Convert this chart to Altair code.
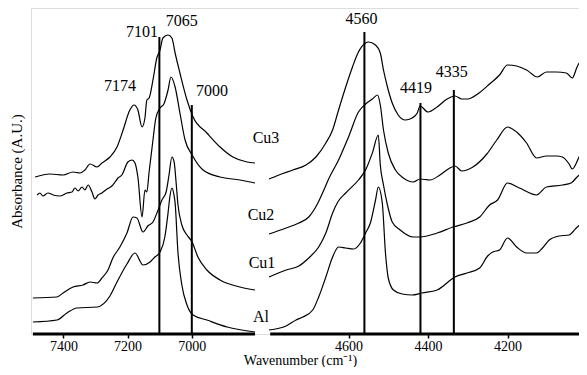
import altair as alt
import pandas as pd

# ---- Left region (7500-6800 cm-1): wavenumber / absorbance (A.U., offset stack) ----
cu3_l_wn = [7488,7442,7401,7370,7348,7333,7317,7295,7280,7255,7233,7214,7193,7180,7168,7155,7146,7140,7133,7121,7109,7099,7090,7074,7062,7052,7037,7015,6996,6953,6912,6872,6828,6803]
cu3_l_a = [157,160,159,162,161,164,170,167,171,177,187,204,224,229,224,207,216,234,236,254,276,284,296,299,296,281,261,234,217,201,187,177,172,171]

cu2_l_wn = [7482,7473,7464,7448,7432,7411,7389,7373,7364,7354,7342,7333,7323,7311,7302,7292,7280,7264,7249,7239,7230,7218,7199,7186,7177,7168,7155,7146,7140,7133,7121,7112,7099,7087,7074,7065,7052,7037,7021,6999,6965,6912,6850,6803]
cu2_l_a = [139,141,138,141,139,138,141,142,146,143,147,144,149,142,135,139,141,145,148,152,156,159,172,174,171,157,117,144,142,162,194,216,226,230,244,257,247,221,194,179,164,157,154,151]

cu1_l_wn = [7495,7420,7401,7370,7339,7317,7295,7280,7261,7246,7224,7202,7183,7171,7152,7137,7121,7105,7093,7080,7071,7062,7055,7049,7043,7031,7015,6999,6981,6953,6912,6850,6803]
cu1_l_a = [36,37,41,47,49,52,51,56,64,76,87,101,117,116,102,108,112,124,134,142,159,177,172,152,129,109,99,92,77,64,54,47,44]

al_l_wn = [7495,7420,7389,7358,7295,7255,7233,7202,7177,7152,7130,7115,7099,7084,7074,7068,7062,7056,7052,7043,7031,7015,6996,6953,6890,6803]
al_l_a = [12,14,21,26,27,38,52,70,81,69,72,77,82,97,121,138,146,140,131,81,49,29,19,14,7,2]

# ---- Right region (4800-4000 cm-1) ----
cu3_r_wn = [4800,4775,4740,4707,4682,4657,4640,4625,4607,4590,4575,4557,4550,4532,4520,4512,4502,4490,4475,4457,4440,4427,4420,4400,4377,4352,4332,4315,4300,4275,4245,4220,4200,4177,4152,4125,4102,4077,4052,4037,4025,4002]
cu3_r_a = [155,159,164,169,177,191,204,224,247,267,282,291,292,289,281,264,247,231,219,214,216,221,228,222,227,235,238,235,235,240,250,259,269,268,264,257,262,262,261,256,267,281]

cu2_r_wn = [4800,4757,4725,4700,4677,4662,4650,4625,4600,4575,4557,4540,4527,4520,4512,4500,4482,4462,4437,4420,4395,4370,4345,4332,4315,4287,4252,4227,4200,4177,4152,4127,4102,4077,4062,4045,4037,4020,4002]
cu2_r_a = [100,106,111,117,131,144,155,174,197,222,230,235,239,229,204,181,164,156,152,155,154,159,166,168,163,167,180,194,207,202,191,176,178,178,177,170,165,177,192]

cu1_r_wn = [4800,4757,4725,4700,4675,4657,4640,4627,4607,4575,4557,4540,4525,4520,4512,4502,4490,4470,4437,4420,4377,4337,4302,4270,4245,4225,4200,4170,4127,4102,4062,4040,4025,4002]
cu1_r_a = [57,64,68,76,87,101,121,132,141,154,164,181,199,169,149,129,112,104,97,97,101,107,111,117,129,134,151,146,139,147,149,151,157,164]

al_r_wn = [4800,4757,4732,4715,4690,4675,4657,4640,4625,4607,4587,4570,4557,4545,4532,4525,4515,4507,4500,4487,4465,4440,4415,4377,4332,4302,4270,4250,4237,4220,4200,4177,4152,4127,4112,4095,4070,4045,4027,4002]
al_r_a = [4,8,14,17,24,37,57,77,87,86,85,91,101,111,134,147,131,81,56,44,40,39,41,44,57,61,66,78,82,84,96,87,81,81,86,94,98,99,106,114]

# ---- Marker lines and annotations ----
marker_wn = [7101, 7000, 4560, 4419, 4335]
marker_top = [297, 229, 302, 231, 244]

peak_text = ["7174", "7101", "7065", "7000", "4560", "4419", "4335"]
peak_wn = [7224, 7155, 7031, 6937, 4567, 4430, 4340]
peak_a = [248, 302, 313, 243, 315, 246, 262]

sample_text = ["Cu3", "Cu2", "Cu1", "Al"]
sample_wn = [5262, 6031, 5877, 6031]
sample_a = [196, 119, 71, 17]

axis_start = [7495, 4797]
axis_end = [6803, 4000]

tick_values = [7400, 7200, 7000, 4600, 4400, 4200]

# ---- build tables ----
rows = []
for name, seg, wn, a in [
    ("Cu3", "L", cu3_l_wn, cu3_l_a), ("Cu2", "L", cu2_l_wn, cu2_l_a),
    ("Cu1", "L", cu1_l_wn, cu1_l_a), ("Al", "L", al_l_wn, al_l_a),
    ("Cu3", "R", cu3_r_wn, cu3_r_a), ("Cu2", "R", cu2_r_wn, cu2_r_a),
    ("Cu1", "R", cu1_r_wn, cu1_r_a), ("Al", "R", al_r_wn, al_r_a),
]:
    for i, (w, v) in enumerate(zip(wn, a)):
        rows.append({"wn": w, "a": v, "key": name + seg, "i": i})
spectra = pd.DataFrame(rows)

markers = pd.DataFrame({"wn": marker_wn, "y0": [0] * len(marker_wn), "y1": marker_top})
peaks = pd.DataFrame({"wn": peak_wn, "a": peak_a, "t": peak_text})
samples = pd.DataFrame({"wn": sample_wn, "a": sample_a, "t": sample_text})
axlines = pd.DataFrame({"s": axis_start, "e": axis_end})

FONT = "Liberation Serif"
xscale = alt.Scale(domain=[7500, 6800, 4800, 4000], range=[0.3, 225, 238, 556], nice=False, zero=False)
yscale = alt.Scale(domain=[0, 326], nice=False, zero=False)

xaxis = alt.Axis(values=tick_values, format="d", domain=False, grid=False,
                 ticks=True, tickSize=4, tickWidth=1.5, tickColor="black",
                 labelFont=FONT, labelFontSize=14, labelColor="black", labelPadding=1,
                 title="Wavenumber (cm⁻¹)", titleFont=FONT, titleFontSize=14,
                 titleFontWeight="normal", titleColor="black", titleX=269,
                 titleY=26, titleBaseline="middle")
yaxis = alt.Axis(labels=False, ticks=False, domain=False, grid=False,
                 title="Absorbance (A.U.)", titleFont=FONT, titleFontSize=15,
                 titleFontWeight="normal", titleColor="black", titlePadding=7)

lines = alt.Chart(spectra).mark_line(color="black", strokeWidth=1.2, interpolate="monotone").encode(
    x=alt.X("wn:Q", scale=xscale, axis=xaxis),
    y=alt.Y("a:Q", scale=yscale, axis=yaxis),
    detail="key:N",
    order="i:Q",
)

vlines = alt.Chart(markers).mark_rule(color="black", strokeWidth=2).encode(
    x=alt.X("wn:Q", scale=xscale),
    y=alt.Y("y0:Q", scale=yscale),
    y2="y1:Q",
)

axrules = alt.Chart(axlines).mark_rule(color="black", strokeWidth=3).encode(
    x=alt.X("s:Q", scale=xscale),
    x2="e:Q",
    y=alt.datum(0),
)

peak_labels = alt.Chart(peaks).mark_text(font=FONT, fontSize=16, color="black", baseline="middle").encode(
    x=alt.X("wn:Q", scale=xscale),
    y=alt.Y("a:Q", scale=yscale),
    text="t:N",
)

sample_labels = alt.Chart(samples).mark_text(font=FONT, fontSize=16, color="black", baseline="middle").encode(
    x=alt.X("wn:Q", scale=xscale),
    y=alt.Y("a:Q", scale=yscale),
    text="t:N",
)

chart = alt.layer(lines, vlines, axrules, peak_labels, sample_labels).properties(
    width=548, height=326,
    autosize=alt.AutoSizeParams(type="none"),
    padding={"left": 23, "top": 0, "right": 0, "bottom": 33},
).configure_view(stroke=None).configure(background="white")

chart.save("out.html", embed_options={"renderer": "svg", "actions": False})
